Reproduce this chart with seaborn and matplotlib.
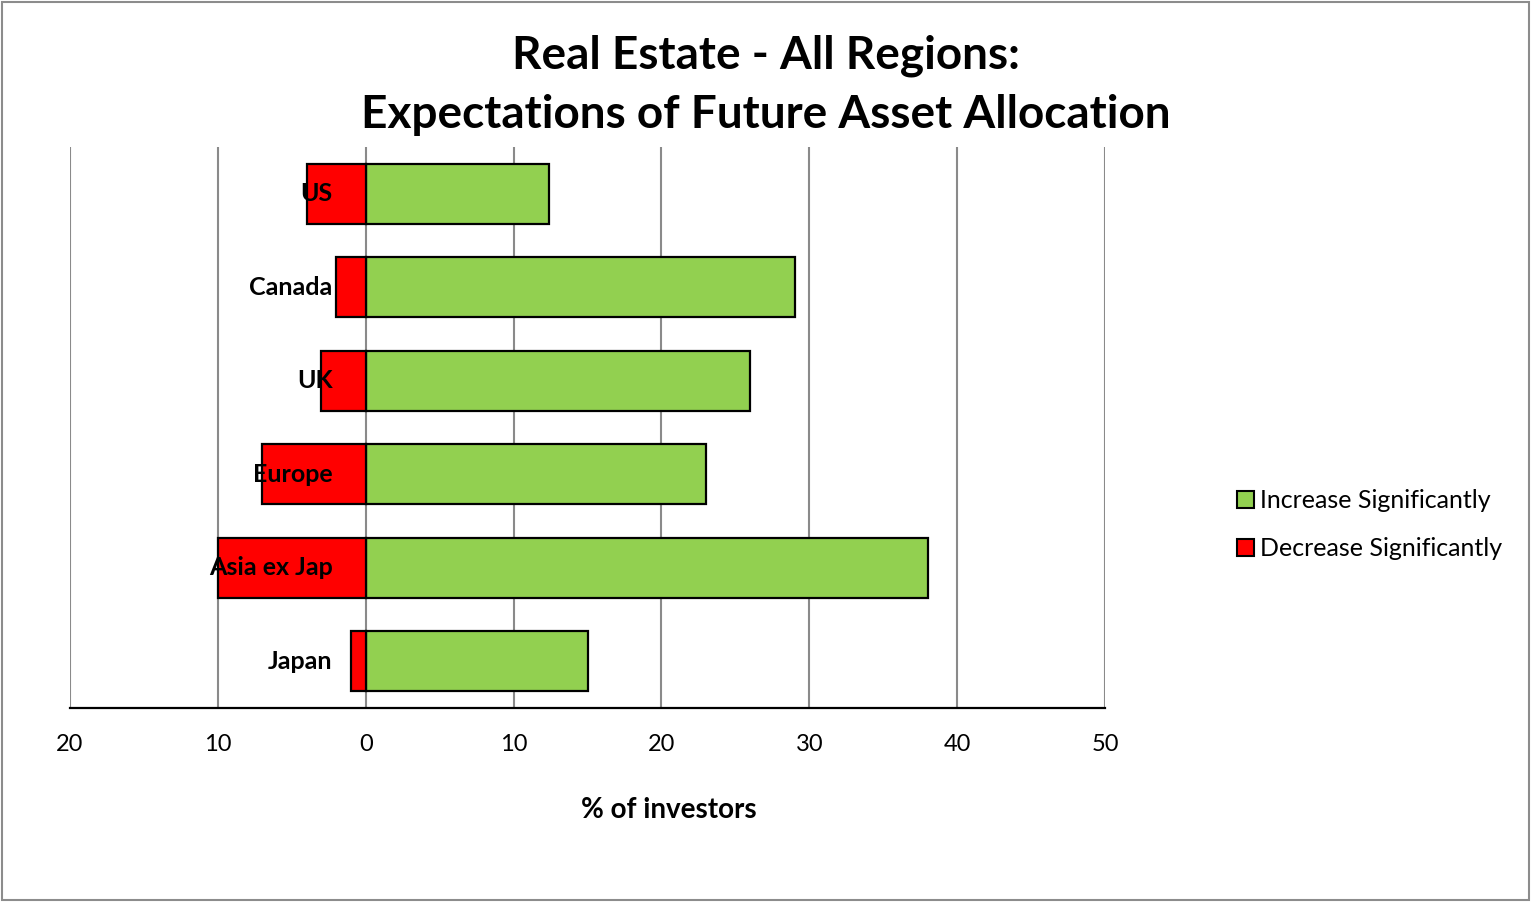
import matplotlib
matplotlib.use("Agg")
import matplotlib.pyplot as plt
import matplotlib.transforms as mtransforms
from matplotlib.patches import Rectangle, Patch
import seaborn as sns
import pandas as pd

regions = ["US", "Canada", "UK", "Europe", "Asia ex Jap", "Japan"]
increase = [12.4, 29, 26, 23, 38, 15]
decrease = [4, 2, 3, 7, 10, 1]
series_names = ["Increase Significantly", "Decrease Significantly"]
x_ticks = [-20, -10, 0, 10, 20, 30, 40, 50]

GREEN = "#92D050"
RED = "#FF0000"

sns.set_theme(style="white")
plt.rcParams["font.family"] = ["Lato", "DejaVu Sans"]
plt.rcParams["text.color"] = "black"
plt.rcParams["axes.labelcolor"] = "black"

df = pd.DataFrame({
    "region": regions * 2,
    "value": increase + [-v for v in decrease],
    "series": [series_names[0]] * len(regions) + [series_names[1]] * len(regions),
})

fig = plt.figure(figsize=(15.31, 9.02), dpi=100)
ax = fig.add_axes([0.0457, 0.215, 0.6761, 0.622])

sns.barplot(data=df, x="value", y="region", hue="series", order=regions,
            hue_order=series_names, palette=[GREEN, RED], saturation=1,
            dodge=False, width=0.64, orient="h", edgecolor="black",
            linewidth=1.6, legend=False, ax=ax, zorder=3)

ax.set_xlim(-20, 50)
ax.set_ylim(5.5, -0.5)
ax.set_xticks(x_ticks)
ax.set_xticklabels([str(abs(t)) for t in x_ticks], fontsize=17, color="black")
ax.tick_params(axis="x", length=0, pad=19)
ax.set_yticks([])
ax.set_ylabel("")
ax.set_xlabel("% of investors", fontsize=20, fontweight="bold")
ax.xaxis.set_label_coords(0.579, -0.159)

for t in x_ticks:
    ax.axvline(t, color="#8a8a8a", lw=1.5, zorder=1)
for side in ["top", "right", "left"]:
    ax.spines[side].set_visible(False)
ax.spines["bottom"].set_color("black")
ax.spines["bottom"].set_linewidth(1.6)

# category names sit just left of the zero line
offset = mtransforms.offset_copy(ax.transData, fig=fig, x=-33, y=0, units="dots")
for i, name in enumerate(regions):
    ax.text(0, i, name, transform=offset, ha="right", va="center",
            fontsize=18, fontweight="bold", color="black", zorder=5)

fig.suptitle("Real Estate - All Regions:\nExpectations of Future Asset Allocation",
             x=0.5, y=0.962, fontsize=33, fontweight="bold", linespacing=1.52,
             color="black")

handles = [Patch(facecolor=GREEN, edgecolor="black", lw=1.5),
           Patch(facecolor=RED, edgecolor="black", lw=1.5)]
fig.legend(handles, series_names, loc="center left", bbox_to_anchor=(0.793, 0.418),
           frameon=False, fontsize=18, handlelength=0.7, handleheight=0.7,
           handletextpad=0.25, labelspacing=1.0)

fig.patches.append(Rectangle((0.0015, 0.002), 0.997, 0.996, transform=fig.transFigure,
                             fill=False, edgecolor="#8c8c8c", lw=1.5))

fig.savefig("out.png", dpi=100)
